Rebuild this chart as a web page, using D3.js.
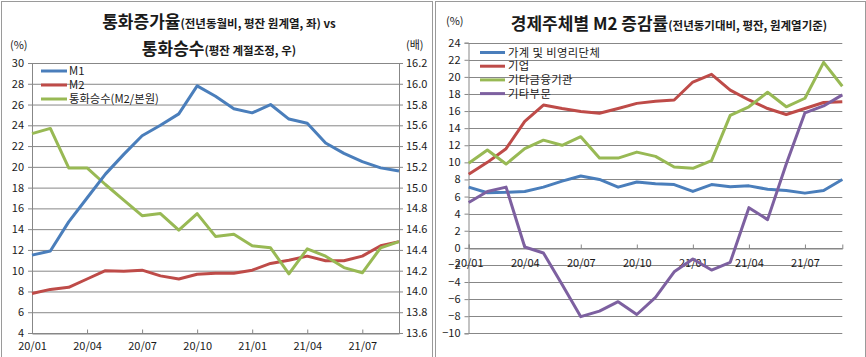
<!DOCTYPE html>
<html><head><meta charset="utf-8">
<script src="https://cdn.jsdelivr.net/npm/d3@7"></script>
<style>
body{margin:0;background:#fff;}
svg text{font-family:"Noto Sans CJK KR","Noto Sans",sans-serif;fill:#1a1a1a;}
</style></head><body>
<svg id="c" width="866" height="357"></svg>
<script>
const months = ["20/01","20/02","20/03","20/04","20/05","20/06","20/07","20/08","20/09","20/10","20/11","20/12","21/01","21/02","21/03","21/04","21/05","21/06","21/07","21/08","21/09"];
const tickMonths = ["20/01","20/04","20/07","20/10","21/01","21/04","21/07"];

// Left chart
const m1 = [11.5,11.9,14.7,17.0,19.3,21.2,23.0,24.0,25.1,27.8,26.8,25.6,25.2,26.0,24.6,24.2,22.3,21.3,20.5,19.9,19.6];
const m2 = [7.8,8.2,8.4,9.2,10.0,9.95,10.05,9.5,9.2,9.65,9.75,9.75,10.05,10.7,11.0,11.4,10.95,10.95,11.4,12.4,12.8];
const multiplier = [15.52,15.57,15.19,15.19,15.03,14.88,14.73,14.75,14.59,14.75,14.53,14.55,14.44,14.42,14.17,14.41,14.34,14.23,14.18,14.42,14.48];
const leftTicks = [4,6,8,10,12,14,16,18,20,22,24,26,28,30];
const rightTicks = [13.6,13.8,14.0,14.2,14.4,14.6,14.8,15.0,15.2,15.4,15.6,15.8,16.0,16.2];
const leftNames = ["M1","M2","통화승수(M2/본원)"];

// Right chart
const household = [7.1,6.45,6.5,6.6,7.1,7.8,8.4,8.0,7.1,7.7,7.5,7.4,6.6,7.4,7.15,7.25,6.85,6.7,6.4,6.7,8.0];
const corporate = [8.6,10.0,11.6,14.8,16.7,16.3,15.95,15.75,16.3,16.9,17.15,17.3,19.4,20.3,18.45,17.3,16.3,15.6,16.3,17.0,17.1];
const otherFin = [9.9,11.45,9.8,11.6,12.6,12.0,13.0,10.5,10.5,11.2,10.7,9.45,9.3,10.2,15.5,16.5,18.2,16.5,17.5,21.7,18.9];
const otherSector = [5.3,6.6,7.1,0.1,-0.6,-4.3,-8.05,-7.4,-6.3,-7.8,-5.8,-2.8,-1.3,-2.6,-1.7,4.7,3.3,9.8,15.8,16.6,17.9];
const rTicks = [-10,-8,-6,-4,-2,0,2,4,6,8,10,12,14,16,18,20,22,24];
const rightNames = ["가계 및 비영리단체","기업","기타금융기관","기타부문"];

const colors = {blue:"#4a7ebb", red:"#be4b48", green:"#98b954", purple:"#7d60a0"};
const grid = "#878787";

const svg = d3.select("#c");

// panel frames
svg.append("rect").attr("x",1.5).attr("y",1.5).attr("width",431).attr("height",370).attr("fill","none").attr("stroke","#9a9a9a");
svg.append("rect").attr("x",435.5).attr("y",1.5).attr("width",430).attr("height",370).attr("fill","none").attr("stroke","#9a9a9a");

// ===== LEFT CHART =====
{
  const g = svg.append("g");
  const x = d3.scalePoint().domain(months).range([32,399]);
  const y = d3.scaleLinear().domain([4,30]).range([333,63]);
  const y2 = d3.scaleLinear().domain([13.6,16.2]).range([333,63]);

  g.append("g").selectAll("line").data(leftTicks).join("line")
    .attr("x1",32).attr("x2",399).attr("y1",d=>y(d)+0.5).attr("y2",d=>y(d)+0.5)
    .attr("stroke",grid).attr("stroke-width",1);

  const ax = g.append("g").attr("transform","translate(32,0)")
    .call(d3.axisLeft(y).tickValues(leftTicks).tickSize(4).tickFormat(d3.format("d")));
  const ax2 = g.append("g").attr("transform","translate(399,0)")
    .call(d3.axisRight(y2).tickValues(rightTicks).tickSize(4).tickFormat(d3.format(".1f")));
  const axb = g.append("g").attr("transform","translate(0,333.5)")
    .call(d3.axisBottom(x).tickValues(tickMonths).tickSize(-4).tickPadding(9));
  [ax,ax2,axb].forEach(a=>{
    a.select(".domain").attr("stroke",grid);
    a.selectAll(".tick line").attr("stroke",grid);
    a.selectAll("text").attr("font-size",11).attr("fill","#1a1a1a");
  });
  ax.selectAll("text").attr("dx",-1);

  const line = (yy)=>d3.line().x((d,i)=>x(months[i])).y(d=>yy(d));
  g.append("path").datum(m2).attr("d",line(y)).attr("fill","none").attr("stroke",colors.red).attr("stroke-width",3).attr("stroke-linejoin","round");
  g.append("path").datum(multiplier).attr("d",line(y2)).attr("fill","none").attr("stroke",colors.green).attr("stroke-width",3).attr("stroke-linejoin","round");
  g.append("path").datum(m1).attr("d",line(y)).attr("fill","none").attr("stroke",colors.blue).attr("stroke-width",3).attr("stroke-linejoin","round");

  // units
  g.append("text").attr("x",10).attr("y",49).attr("font-size",11).text("(%)");
  g.append("text").attr("x",406).attr("y",49).attr("font-size",11).text("(배)");

  // title
  const t1 = g.append("text").attr("x",219).attr("y",28).attr("text-anchor","middle").attr("font-weight","bold");
  t1.append("tspan").attr("font-size",17).text("통화증가율");
  t1.append("tspan").attr("font-size",11.5).text("(전년동월비, 평잔 원계열, 좌) vs");
  const t2 = g.append("text").attr("x",219).attr("y",55).attr("text-anchor","middle").attr("font-weight","bold");
  t2.append("tspan").attr("font-size",17).text("통화승수");
  t2.append("tspan").attr("font-size",11.5).text("(평잔 계절조정, 우)");

  // legend
  const lc = [colors.blue,colors.red,colors.green];
  leftNames.forEach((n,i)=>{
    const yy = 71 + i*14;
    g.append("line").attr("x1",41).attr("x2",67).attr("y1",yy).attr("y2",yy).attr("stroke",lc[i]).attr("stroke-width",3);
    g.append("text").attr("x",69).attr("y",yy+4).attr("font-size",11.3).text(n);
  });
}

// ===== RIGHT CHART =====
{
  const g = svg.append("g");
  const x = d3.scalePoint().domain(months).range([468.7,842.3]);
  const y = d3.scaleLinear().domain([-10,24]).range([333.3,42.7]);

  g.append("g").selectAll("line").data(rTicks).join("line")
    .attr("x1",468.7).attr("x2",842.3).attr("y1",d=>Math.round(y(d))+0.5).attr("y2",d=>Math.round(y(d))+0.5)
    .attr("stroke",grid).attr("stroke-width",1);

  const ax = g.append("g").attr("transform","translate(468.5,0)")
    .call(d3.axisLeft(y).tickValues(rTicks).tickSize(4).tickFormat(d3.format("d")));
  const axb = g.append("g").attr("transform",`translate(0,${Math.round(y(0))+0.5})`)
    .call(d3.axisBottom(x).tickValues(tickMonths).tickSize(-4).tickPadding(11));
  [ax,axb].forEach(a=>{
    a.select(".domain").attr("stroke",grid);
    a.selectAll(".tick line").attr("stroke",grid);
    a.selectAll("text").attr("font-size",11).attr("fill","#1a1a1a");
  });
  ax.selectAll("text").attr("dx",-1);

  const line = d3.line().x((d,i)=>x(months[i])).y(d=>y(d));
  [[household,colors.blue],[corporate,colors.red],[otherFin,colors.green],[otherSector,colors.purple]].forEach(([d,c])=>{
    g.append("path").datum(d).attr("d",line).attr("fill","none").attr("stroke",c).attr("stroke-width",3).attr("stroke-linejoin","round");
  });

  g.append("text").attr("x",446).attr("y",25).attr("font-size",11).text("(%)");

  const t = g.append("text").attr("x",669).attr("y",30).attr("text-anchor","middle").attr("font-weight","bold");
  t.append("tspan").attr("font-size",17).text("경제주체별 M2 증감률");
  t.append("tspan").attr("font-size",11.5).text("(전년동기대비, 평잔, 원계열기준)");

  const lc = [colors.blue,colors.red,colors.green,colors.purple];
  rightNames.forEach((n,i)=>{
    const yy = 52.5 + i*13.7;
    g.append("line").attr("x1",480).attr("x2",505).attr("y1",yy).attr("y2",yy).attr("stroke",lc[i]).attr("stroke-width",3);
    g.append("text").attr("x",508).attr("y",yy+4).attr("font-size",11.3).attr("letter-spacing",0.4).text(n);
  });
}
</script></body></html>
